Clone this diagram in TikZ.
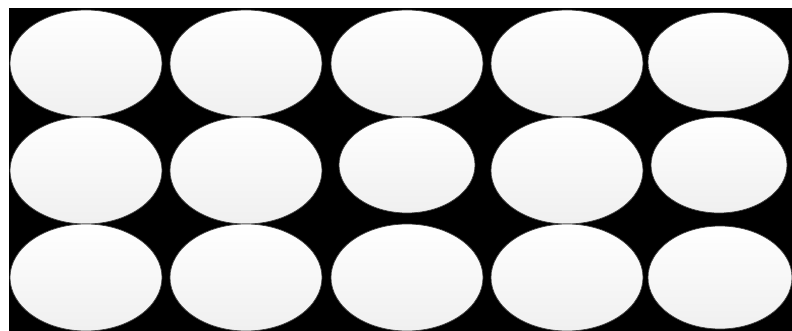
\documentclass[tikz,border=0pt]{standalone}
\usepackage{tikz}
\usetikzlibrary{shapes.geometric}

\begin{document}
\begin{tikzpicture}[x=1pt, y=-1pt,
        bubble/.style={draw=black!75, line width=0.7pt, ellipse, inner sep=0pt, outer sep=0pt,
                       top color=white, bottom color=black!6, minimum width=152pt, minimum height=107pt},
        small/.style={minimum width=136pt, minimum height=96pt}]
        \useasboundingbox (0,0) rectangle (792,331);
        \clip (0,0) rectangle (792,331);

        % Background
        \fill[black] (9,8.5) rectangle (792,331);

        % Row 1
        \node[bubble] (r1a) at (86,63.5) {};
        \node[bubble] (r1b) at (246,63.5) {};
        \node[bubble] (r1c) at (407,63.5) {};
        \node[bubble] (r1d) at (567,63.5) {};
        \node[bubble, minimum width=141pt, minimum height=99pt] (r1e) at (718.5,62) {};

        % Row 2
        \node[bubble] (r2a) at (86,170.5) {};
        \node[bubble] (r2b) at (246,170.5) {};
        \node[bubble, small] (r2c) at (407,165) {};
        \node[bubble] (r2d) at (567,170.5) {};
        \node[bubble, small] (r2e) at (719,165) {};

        % Row 3
        \node[bubble] (r3a) at (86,277.5) {};
        \node[bubble] (r3b) at (246,277.5) {};
        \node[bubble] (r3c) at (407,277.5) {};
        \node[bubble] (r3d) at (567,277.5) {};
        \node[bubble, minimum width=144pt, minimum height=103pt] (r3e) at (720,277.5) {};
\end{tikzpicture}
\end{document}
